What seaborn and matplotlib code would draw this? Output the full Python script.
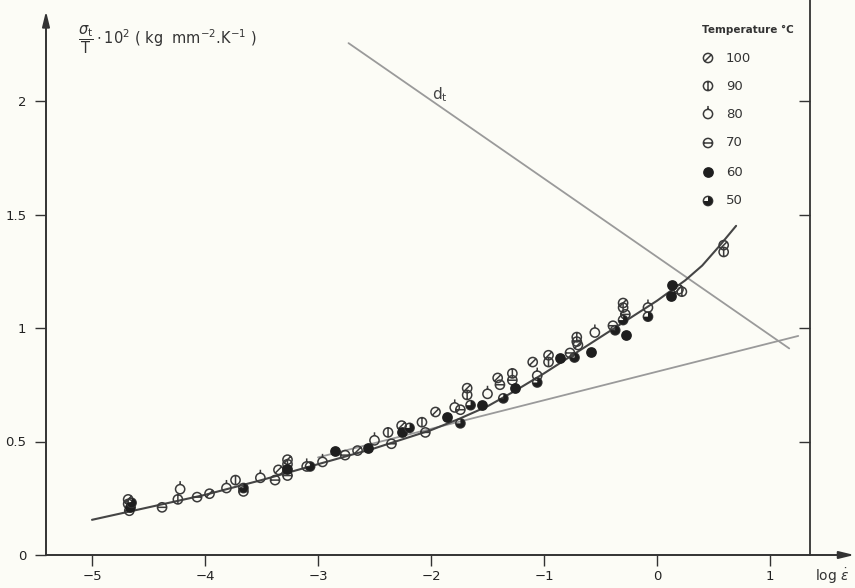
import numpy as np
import matplotlib
matplotlib.use("Agg")
import matplotlib.pyplot as plt
import matplotlib.path as mpath
from matplotlib.markers import MarkerStyle
import seaborn as sns

sns.set_style("white")
plt.rcParams['font.family'] = ['DejaVu Sans']
plt.rcParams['mathtext.fontset'] = 'dejavusans'

# ---------------- data ----------------
# fitted curve
curve_x = [-5, -4.5, -4, -3.5, -3, -2.5, -2, -1.75, -1.5, -1.25, -1, -0.75, -0.5, -0.25, 0, 0.25, 0.4, 0.55, 0.7]
curve_y = [0.155, 0.21, 0.265, 0.33, 0.40, 0.47, 0.55, 0.60, 0.655, 0.725, 0.80, 0.88, 0.96, 1.04, 1.12, 1.21, 1.275, 1.36, 1.45]
# straight asymptote
tang_x = [-3.0, 1.25]
tang_y = [0.43, 0.965]
# d_t line
dt_x = [-2.73, 1.17]
dt_y = [2.255, 0.91]

# measured points per temperature (deg C)
t100_x = [-4.68, -3.96, -3.35, -3.27, -2.65, -2.26, -1.96, -1.68, -1.41, -1.10, -0.96, -0.70, -0.30, 0.19, 0.59]
t100_y = [0.245, 0.27, 0.375, 0.42, 0.46, 0.57, 0.63, 0.735, 0.78, 0.85, 0.88, 0.925, 1.11, 1.17, 1.365]
t90_x = [-4.68, -4.24, -3.73, -3.27, -2.38, -2.08, -1.68, -1.28, -0.96, -0.71, -0.30, 0.22, 0.59]
t90_y = [0.225, 0.245, 0.33, 0.40, 0.54, 0.585, 0.705, 0.80, 0.85, 0.96, 1.09, 1.16, 1.335]
t80_x = [-4.22, -3.81, -3.51, -3.10, -2.96, -2.50, -1.79, -1.50, -1.06, -0.55, -0.08]
t80_y = [0.29, 0.295, 0.34, 0.39, 0.41, 0.505, 0.65, 0.71, 0.79, 0.98, 1.09]
t70_x = [-4.67, -4.38, -4.07, -3.66, -3.38, -3.27, -2.76, -2.35, -2.05, -1.74, -1.39, -1.28, -0.77, -0.71, -0.39, -0.28]
t70_y = [0.195, 0.21, 0.255, 0.28, 0.33, 0.35, 0.44, 0.49, 0.54, 0.64, 0.75, 0.77, 0.89, 0.94, 1.01, 1.06]
t60_x = [-4.66, -3.27, -2.85, -2.56, -2.26, -1.86, -1.55, -1.26, -0.86, -0.58, -0.27, 0.13, 0.12]
t60_y = [0.21, 0.38, 0.46, 0.47, 0.54, 0.61, 0.66, 0.735, 0.87, 0.895, 0.97, 1.19, 1.14]
t50_x = [-4.65, -3.66, -3.07, -2.19, -1.74, -1.65, -1.36, -1.06, -0.73, -0.37, -0.08, -0.30]
t50_y = [0.23, 0.295, 0.39, 0.56, 0.58, 0.66, 0.69, 0.76, 0.87, 0.99, 1.05, 1.035]

temps = ["100", "90", "80", "70", "60", "50"]
series = {"100": (t100_x, t100_y), "90": (t90_x, t90_y), "80": (t80_x, t80_y),
          "70": (t70_x, t70_y), "60": (t60_x, t60_y), "50": (t50_x, t50_y)}

x_ticks = [-5, -4, -3, -2, -1, 0, 1]
y_ticks = [0, 0.5, 1, 1.5, 2]
y_ticklabels = ["0", "0.5", "1", "1.5", "2"]

# ---------------- markers ----------------
circ = mpath.Path.unit_circle()


def circle_plus(segments):
    verts = list(circ.vertices)
    codes = list(circ.codes)
    for (a, b) in segments:
        verts += [a, b]
        codes += [mpath.Path.MOVETO, mpath.Path.LINETO]
    return mpath.Path(verts, codes)


m_slash = MarkerStyle(circle_plus([((-0.72, -0.72), (0.72, 0.72))]))
m_vbar = MarkerStyle(circle_plus([((0, -1.0), (0, 1.0))]))
m_hbar = MarkerStyle(circle_plus([((-1.0, 0), (1.0, 0))]))
m_tick = MarkerStyle(circle_plus([((0, 1.0), (0, 1.75))]))
m_circle = MarkerStyle(circ)
m_wedge = MarkerStyle(mpath.Path.wedge(180, 450))

EDGE = "#3a3a3a"
S = 44
LW = 1.1


def scat(ax, xs, ys, marker, s, face, edge=EDGE, lw=LW):
    sns.scatterplot(x=xs, y=ys, marker=marker, s=s, ax=ax, legend=False, zorder=4)
    coll = ax.collections[-1]
    coll.set_facecolor(face)
    coll.set_edgecolor(edge)
    coll.set_linewidth(lw)
    coll.set_clip_on(False)


def draw(ax, kind, xs, ys):
    if kind == "100":
        scat(ax, xs, ys, m_slash, S, "none")
    elif kind == "90":
        scat(ax, xs, ys, m_vbar, S, "none")
    elif kind == "80":
        scat(ax, xs, ys, m_tick, S * 1.75 ** 2, "none")
    elif kind == "70":
        scat(ax, xs, ys, m_hbar, S, "none")
    elif kind == "60":
        scat(ax, xs, ys, m_circle, S, "#1e1e1e", edge="#1e1e1e")
    elif kind == "50":
        scat(ax, xs, ys, m_circle, S, "none")
        scat(ax, xs, ys, m_wedge, S, "#1e1e1e", edge="none", lw=0)


# ---------------- figure ----------------
BG = "#fcfcf6"
fig = plt.figure(figsize=(8.55, 5.88), dpi=100, facecolor=BG)
ax = fig.add_axes([46 / 855, 33 / 588, (810 - 46) / 855, 555 / 588])
ax.set_facecolor(BG)
ax.set_xlim((46 - 657) / 113, (810 - 657) / 113)
ax.set_ylim(0, 555 / 227)

AX = "#333333"
for sp in ["top", "bottom", "left"]:
    ax.spines[sp].set_visible(False)
ax.spines["right"].set_color(AX)
ax.spines["right"].set_linewidth(1.3)

# axis arrows
ax.annotate("", xy=(1.058, 0), xytext=(0, 0), xycoords="axes fraction",
            arrowprops=dict(arrowstyle="-|>,head_length=0.9,head_width=0.22",
                            color=AX, lw=1.4, shrinkA=0, shrinkB=0),
            annotation_clip=False)
ax.annotate("", xy=(0, 0.98), xytext=(0, 0), xycoords="axes fraction",
            arrowprops=dict(arrowstyle="-|>,head_length=0.9,head_width=0.22",
                            color=AX, lw=1.4, shrinkA=0, shrinkB=0),
            annotation_clip=False)

ax.set_xticks(x_ticks)
ax.set_xticklabels([f"\u2212{abs(v)}" if v < 0 else str(v) for v in x_ticks])
ax.set_yticks(y_ticks)
ax.set_yticklabels(y_ticklabels)
ax.tick_params(axis="x", direction="out", length=8, width=1.0, color=AX,
               labelsize=9.5, pad=3, labelcolor="#222222", bottom=True)
ax.tick_params(axis="y", direction="out", length=8, width=1.0, color=AX,
               labelsize=9.5, pad=6, labelcolor="#222222", left=True)

ax2 = ax.twinx()
ax2.set_ylim(ax.get_ylim())
ax2.set_yticks([0.5, 1, 1.5, 2])
ax2.set_yticklabels([])
ax2.tick_params(axis="y", direction="in", length=8, width=1.0, color=AX)
for sp in ax2.spines.values():
    sp.set_visible(False)

# lines
sns.lineplot(x=tang_x, y=tang_y, ax=ax, color="#9a9a9a", lw=1.3, sort=False, estimator=None, zorder=2)
sns.lineplot(x=dt_x, y=dt_y, ax=ax, color="#9a9a9a", lw=1.3, sort=False, estimator=None, zorder=2)
sns.lineplot(x=curve_x, y=curve_y, ax=ax, color="#454545", lw=1.5, sort=False, estimator=None, zorder=3)

# points
for t in temps:
    xs, ys = series[t]
    draw(ax, t, xs, ys)

# legend (manual)
leg_y = [(555 - v) / 227 for v in [58, 86, 114, 143, 172, 201]]
leg_mx = (708 - 657) / 113
leg_tx = (726 - 657) / 113
ax.text((702 - 657) / 113, (555 - 30) / 227, "Temperature \u00b0C", fontsize=7.5,
        fontweight="bold", color="#333333", ha="left", va="center")
for t, yy in zip(temps, leg_y):
    draw(ax, t, [leg_mx], [yy])
    ax.text(leg_tx, yy, t, fontsize=9.5, color="#333333", ha="left", va="center")

# labels
ax.text(-1.92, 2.03, r"d$_\mathrm{t}$", fontsize=11, color="#444444", ha="center", va="center")
fig.text(78 / 855, 1 - 40 / 588,
         r"$\dfrac{\sigma_\mathrm{t}}{\mathrm{T}}\cdot 10^2$ ( kg  mm$^{-2}$.K$^{-1}$ )",
         fontsize=10.5, color="#333333", ha="left", va="center")
fig.text(832 / 855, 1 - 576 / 588, r"log $\dot{\varepsilon}$", fontsize=10,
         color="#333333", ha="center", va="center")

fig.savefig("out.png", dpi=100, facecolor=BG)
